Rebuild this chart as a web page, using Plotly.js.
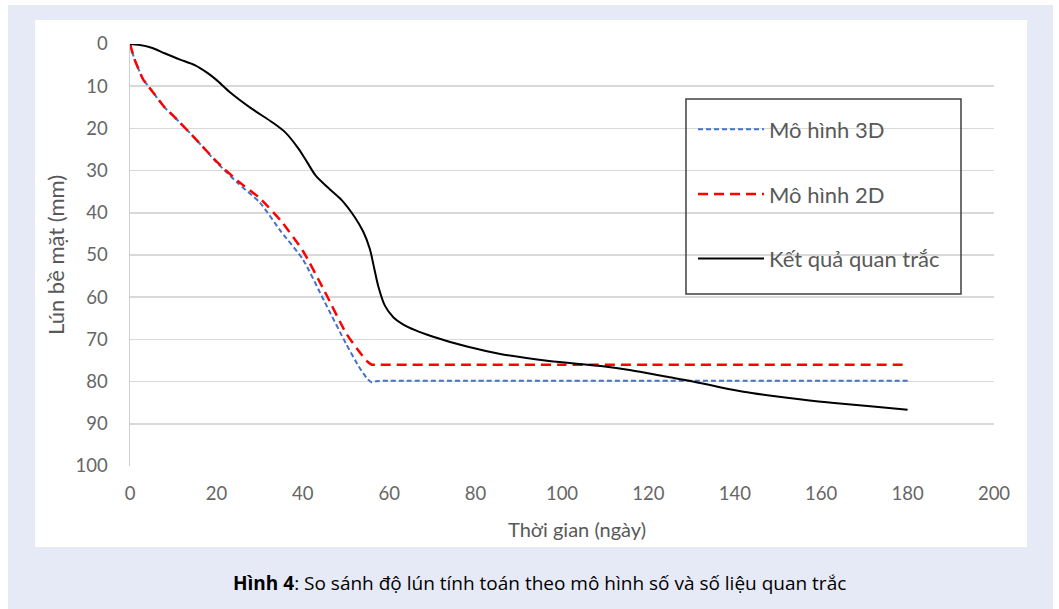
<!DOCTYPE html>
<html>
<head>
<meta charset="utf-8">
<script src="https://cdn.plot.ly/plotly-3.0.1.min.js"></script>
<style>
html,body{margin:0;padding:0;background:#ffffff;}
#chart{width:1059px;height:609px;}
</style>
</head>
<body>
<div id="chart"></div>
<script>
// ---- data ----
const seriesNames = ["Mô hình 3D", "Mô hình 2D", "Kết quả quan trắc"];

const days3D = [0, 1, 2, 3, 5, 8, 10, 15, 20, 25, 30, 35, 40, 45, 50, 53, 55, 56, 57, 60, 80, 100, 120, 140, 160, 180];
const settle3D = [0, 3.5, 6, 8.3, 11, 15, 17, 22.3, 28, 33, 37.5, 44.5, 51, 61, 71, 76.5, 79.4, 80.2, 79.9, 79.8, 79.8, 79.8, 79.8, 79.8, 79.8, 79.8];

const days2D = [0, 1, 2, 3, 5, 8, 10, 15, 20, 25, 30, 35, 40, 45, 50, 53, 55, 56, 57, 60, 80, 100, 120, 140, 160, 180];
const settle2D = [0, 3.5, 6, 8.3, 11, 15, 17, 22.3, 27.8, 32.5, 36.5, 42, 49, 58.5, 68.5, 72.8, 75.3, 76, 76, 76, 76, 76, 76, 76, 76, 76];

const daysObs = [0, 2, 5, 8, 11.6, 15, 18, 20, 23, 28, 33, 36, 39, 41, 43, 46, 49, 52, 54, 55.5, 56.5, 57.5, 59, 61, 63, 66, 70, 78, 86, 97, 109, 116, 124, 130, 136, 142, 148, 155, 163, 172, 180];
const settleObs = [0, 0.2, 0.9, 2.2, 3.7, 5.0, 6.9, 8.5, 11.3, 15.2, 18.6, 21, 24.8, 28, 31.2, 34.2, 37, 41, 44.5, 48.5, 53, 57.5, 62, 64.8, 66.3, 67.8, 69.3, 71.7, 73.5, 75.1, 76.3, 77.3, 78.8, 79.9, 81.2, 82.4, 83.3, 84.2, 85.1, 85.9, 86.7];

const xTitle = "Thời gian (ngày)";
const yTitle = "Lún bề mặt (mm)";
const caption = "<b>Hình 4</b>: So sánh độ lún tính toán theo mô hình số và số liệu quan trắc";

// ---- chart ----
const axisGray = "#595959";
const tickFont = {family: "Lato, 'Liberation Sans', sans-serif", size: 18.5, color: "#666666"};

const traces = [
  {x: days3D, y: settle3D, name: seriesNames[0], mode: "lines", legendgroup: "a",
   line: {color: "#4472c4", width: 2, dash: "5px,3px", shape: "spline", smoothing: 0.6}},
  {x: days2D, y: settle2D, name: seriesNames[1], mode: "lines", legendgroup: "b",
   line: {color: "#ff0000", width: 2.5, dash: "10px,6px", shape: "spline", smoothing: 0.6}},
  {x: daysObs, y: settleObs, name: seriesNames[2], mode: "lines", legendgroup: "c",
   line: {color: "#000000", width: 2, shape: "spline", smoothing: 0.8}}
];

const layout = {
  width: 1059, height: 609,
  margin: {l: 130, r: 65, t: 44, b: 143},
  paper_bgcolor: "#ffffff",
  plot_bgcolor: "rgba(0,0,0,0)",
  showlegend: true,
  legend: {
    x: 0.6516, y: 0.847, xanchor: "left", yanchor: "top",
    bgcolor: "rgba(0,0,0,0)", borderwidth: 0,
    traceorder: "grouped", tracegroupgap: 33,
    itemwidth: 66,
    font: {family: "Lato, 'Liberation Sans', sans-serif", size: 22, color: axisGray}
  },
  xaxis: {
    range: [0, 200], dtick: 20, tick0: 0,
    showgrid: false, zeroline: false, showline: false,
    ticks: "", ticklabelstandoff: 14,
    tickfont: tickFont, fixedrange: true
  },
  yaxis: {
    range: [100, 0], dtick: 10, tick0: 0,
    showgrid: true, gridcolor: "#d9d9d9", gridwidth: 1.5,
    zeroline: false, showline: true, linecolor: "#d0d0d0", linewidth: 1.5,
    ticks: "", ticklabelstandoff: 17,
    tickfont: tickFont, fixedrange: true
  },
  shapes: [
    {type: "rect", xref: "paper", yref: "paper", layer: "below",
     x0: -0.1412, x1: 1.0683, y0: -0.345, y1: 1.0924,
     fillcolor: "#e6eaf6", line: {width: 0}},
    {type: "rect", xref: "paper", yref: "paper", layer: "below",
     x0: -0.1100, x1: 1.0382, y0: -0.1919, y1: 1.0569,
     fillcolor: "#ffffff", line: {width: 0}},
    {type: "rect", xref: "paper", yref: "paper", layer: "above",
     x0: 0.6435, x1: 0.9618, y0: 0.4076, y1: 0.8697,
     fillcolor: "rgba(0,0,0,0)", line: {color: "#404040", width: 1.5}}
  ],
  annotations: [
    {text: xTitle, xref: "paper", yref: "paper", x: 0.5174, y: -0.1493,
     xanchor: "center", yanchor: "middle", showarrow: false,
     font: {family: "Lato, 'Liberation Sans', sans-serif", size: 20, color: axisGray}},
    {text: yTitle, xref: "paper", yref: "paper", x: -0.0868, y: 0.5,
     xanchor: "center", yanchor: "middle", showarrow: false, textangle: -90,
     font: {family: "Lato, 'Liberation Sans', sans-serif", size: 22, color: axisGray}},
    {text: caption, xref: "paper", yref: "paper", x: 0.4745, y: -0.2773,
     xanchor: "center", yanchor: "middle", showarrow: false,
     font: {family: "'Open Sans', 'Noto Sans', sans-serif", size: 19, color: "#000000"}}
  ]
};

Plotly.newPlot("chart", traces, layout, {displayModeBar: false, staticPlot: true});
</script>
</body>
</html>
